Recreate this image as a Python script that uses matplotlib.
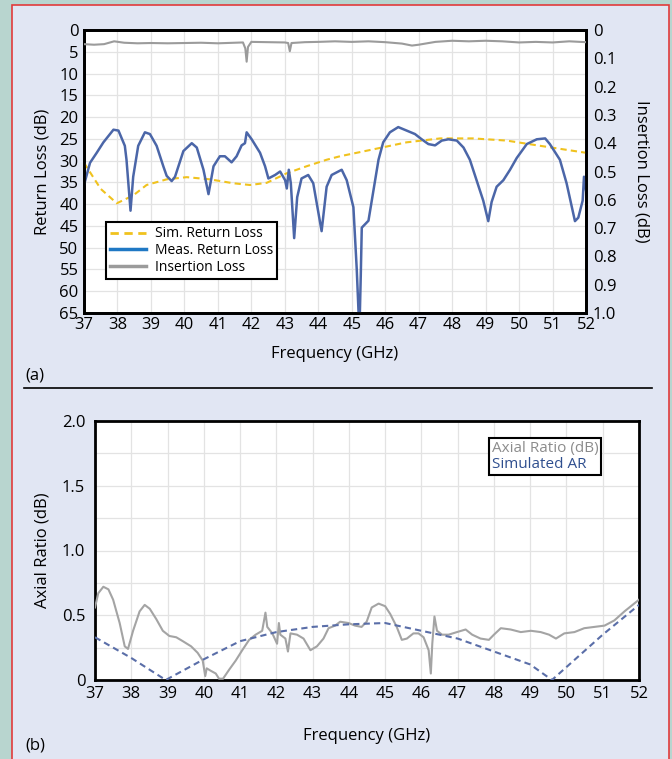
import matplotlib
matplotlib.use("Agg")
import matplotlib.pyplot as plt
from matplotlib.lines import Line2D
from matplotlib.patches import Rectangle

plt.rcParams['font.family'] = ['Open Sans', 'DejaVu Sans']

# ---- (a) return loss / insertion loss ----
meas_f = [37.0, 37.18, 37.38, 37.58, 37.88, 38.03, 38.22, 38.27, 38.39, 38.47, 38.62, 38.82,
          38.97, 39.17, 39.37, 39.47, 39.62, 39.72, 39.97, 40.22, 40.37, 40.57, 40.72, 40.87,
          41.06, 41.21, 41.41, 41.56, 41.71, 41.81, 41.86, 42.01, 42.26, 42.41, 42.51, 42.71,
          42.86, 43.01, 43.06, 43.12, 43.18, 43.28, 43.37, 43.5, 43.7, 43.85, 44.1, 44.25,
          44.4, 44.7, 44.85, 45.05, 45.15, 45.21, 45.24, 45.27, 45.3, 45.4, 45.5, 45.65, 45.8,
          45.94, 46.14, 46.39, 46.64, 46.89, 47.09, 47.29, 47.49, 47.69, 47.89, 48.14, 48.34,
          48.53, 48.73, 48.93, 49.08, 49.18, 49.33, 49.53, 49.73, 49.93, 50.23, 50.53, 50.78,
          50.92, 51.22, 51.42, 51.67, 51.77, 51.9, 51.94, 52.0]
meas_rl = [35.6, 30.5, 28.2, 25.8, 22.9, 23.1, 26.6, 29.8, 41.5, 33.7, 26.6, 23.5,
           23.9, 26.6, 31.3, 33.5, 34.7, 33.7, 27.8, 26.0, 27.0, 32.1, 37.7, 31.3,
           29.0, 29.0, 30.4, 29.0, 26.5, 26.0, 23.5, 25.1, 28.2, 31.3, 34.1, 33.3,
           32.5, 34.5, 36.4, 32.1, 35.2, 47.8, 38.4, 34.1, 33.3, 35.2, 46.2, 36.0,
           33.3, 32.1, 34.5, 40.7, 55.0, 66.0, 66.0, 56.4, 45.4, 44.6, 43.8, 36.8, 29.8,
           25.8, 23.5, 22.3, 23.1, 23.9, 25.1, 26.2, 26.5, 25.4, 25.1, 25.4, 27.0,
           29.8, 34.5, 39.2, 43.9, 39.5, 36.0, 34.5, 32.1, 29.4, 26.2, 25.1, 24.9,
           26.2, 29.8, 35.2, 43.9, 43.1, 39.2, 33.7, 36.8]

sim_f = [37.0, 37.5, 37.98, 38.47, 38.87, 39.47, 40.07, 40.76, 41.46, 41.96, 42.46, 43.06,
         43.65, 44.25, 44.65, 45.65, 46.64, 47.64, 48.63, 49.63, 50.63, 52.0]
sim_rl = [30.5, 36.5, 39.8, 38.0, 35.6, 34.3, 33.8, 34.3, 35.2, 35.6, 35.1, 32.9,
          31.3, 29.8, 29.0, 27.4, 25.8, 24.9, 24.9, 25.4, 26.6, 28.2]

il_f = [37.0, 37.3, 37.6, 37.9, 38.2, 38.6, 39.0, 39.5, 40.0, 40.5, 41.0, 41.5, 41.75, 41.82,
        41.86, 41.9, 42.0, 42.5, 43.0, 43.1, 43.15, 43.2, 43.6, 44.0, 44.5, 45.0, 45.5, 46.0,
        46.5, 46.8, 47.0, 47.5, 48.0, 48.5, 49.0, 49.5, 50.0, 50.5, 51.0, 51.5, 52.0]
il_db = [0.050, 0.052, 0.050, 0.040, 0.045, 0.047, 0.046, 0.047, 0.046, 0.045, 0.047, 0.045,
         0.044, 0.065, 0.112, 0.060, 0.042, 0.043, 0.044, 0.046, 0.075, 0.046, 0.043, 0.042,
         0.040, 0.042, 0.040, 0.043, 0.048, 0.055, 0.052, 0.042, 0.038, 0.040, 0.038, 0.040,
         0.044, 0.042, 0.044, 0.040, 0.043]

# ---- (b) axial ratio ----
ar_f = [37.0, 37.09, 37.23, 37.37, 37.5, 37.68, 37.82, 37.91, 38.05, 38.23, 38.37, 38.51,
        38.69, 38.87, 39.05, 39.24, 39.42, 39.65, 39.83, 39.97, 40.04, 40.08, 40.2, 40.33,
        40.42, 40.53, 40.7, 40.88, 41.06, 41.25, 41.43, 41.61, 41.7, 41.75, 41.89, 42.02,
        42.07, 42.11, 42.25, 42.32, 42.39, 42.57, 42.75, 42.94, 43.12, 43.3, 43.44, 43.62,
        43.76, 43.99, 44.17, 44.35, 44.49, 44.63, 44.82, 45.0, 45.14, 45.32, 45.46, 45.6,
        45.78, 45.92, 46.06, 46.2, 46.26, 46.3, 46.36, 46.43, 46.57, 46.75, 46.98, 47.22,
        47.4, 47.63, 47.86, 48.0, 48.19, 48.46, 48.74, 49.02, 49.29, 49.52, 49.71, 49.94,
        50.22, 50.49, 50.77, 51.05, 51.32, 51.6, 52.0]
ar_db = [0.56, 0.67, 0.72, 0.70, 0.62, 0.44, 0.26, 0.24, 0.38, 0.53, 0.58, 0.55,
         0.47, 0.38, 0.34, 0.33, 0.30, 0.26, 0.21, 0.15, 0.03, 0.09, 0.07, 0.05,
         0.01, 0.01, 0.08, 0.15, 0.23, 0.31, 0.35, 0.38, 0.52, 0.41, 0.36, 0.28,
         0.44, 0.35, 0.32, 0.22, 0.36, 0.35, 0.32, 0.23, 0.26, 0.32, 0.40, 0.42,
         0.45, 0.44, 0.42, 0.41, 0.45, 0.56, 0.59, 0.57, 0.51, 0.41, 0.31, 0.32,
         0.36, 0.36, 0.33, 0.23, 0.05, 0.28, 0.49, 0.38, 0.35, 0.35, 0.37, 0.39,
         0.35, 0.32, 0.31, 0.35, 0.40, 0.39, 0.37, 0.38, 0.37, 0.35, 0.32, 0.36,
         0.37, 0.40, 0.41, 0.42, 0.46, 0.53, 0.62]

simar_f = [37.0, 38.0, 38.95, 40.0, 41.0, 42.0, 43.0, 44.0, 45.0, 46.0, 47.0, 48.0, 49.0,
           49.6, 50.0, 51.0, 52.0]
simar_db = [0.33, 0.17, 0.0, 0.16, 0.30, 0.37, 0.41, 0.43, 0.44, 0.38, 0.32, 0.22, 0.12,
            0.0, 0.10, 0.35, 0.58]

freq_ticks = list(range(37, 53))
rl_ticks = list(range(0, 70, 5))
il_ticks = [0, 0.1, 0.2, 0.3, 0.4, 0.5, 0.6, 0.7, 0.8, 0.9, 1.0]
il_labels = ['0', '0.1', '0.2', '0.3', '0.4', '0.5', '0.6', '0.7', '0.8', '0.9', '1.0']

W, H = 672, 759
fig = plt.figure(figsize=(W / 100, H / 100), dpi=100, facecolor='#b8d5cf')
fig.patches.append(Rectangle((12 / W, -0.01), 657 / W, 1 - 5 / H + 0.01,
                             transform=fig.transFigure, facecolor='#e1e6f3',
                             edgecolor='#e23b3b', linewidth=1.2, zorder=-10))

blue = '#4b66a8'
yellow = '#f0c21e'
gray = '#9b9b9b'
fs = 12

ax1 = fig.add_axes([84 / W, 1 - 313 / H, 502 / W, 283 / H])
ax1.plot(sim_f, sim_rl, color=yellow, lw=1.5, ls=(0, (3, 2)), zorder=3)
ax1.plot(meas_f, meas_rl, color=blue, lw=1.8, zorder=4)
ax1.set_xlim(37, 52)
ax1.set_ylim(65, 0)
ax1.set_xticks(freq_ticks)
ax1.set_yticks(rl_ticks)
ax1.grid(True, color='#e3e3e3', lw=0.9)
ax1.set_axisbelow(True)
ax1.tick_params(length=0, labelsize=fs, pad=4)
ax1.tick_params(axis='x', pad=3)
ax1.set_ylabel('Return Loss (dB)', fontsize=fs, labelpad=6)
ax1.set_xlabel('Frequency (GHz)', fontsize=fs, labelpad=9)

ax2 = ax1.twinx()
ax2.plot(il_f, il_db, color=gray, lw=1.5, zorder=3)
ax2.set_ylim(1.0, 0)
ax2.set_yticks(il_ticks)
ax2.set_yticklabels(il_labels)
ax2.tick_params(length=0, labelsize=fs, pad=5)
ax2.set_ylabel('Insertion Loss (dB)', fontsize=fs, rotation=270, labelpad=24)
for a in (ax1, ax2):
    for s in a.spines.values():
        s.set_linewidth(2)

handles = [Line2D([], [], color=yellow, lw=2, ls=(0, (3, 2))),
           Line2D([], [], color='#1f78c4', lw=2.5),
           Line2D([], [], color=gray, lw=2.5)]
leg = ax2.legend(handles, ['Sim. Return Loss', 'Meas. Return Loss', 'Insertion Loss'],
                 loc='upper left', bbox_to_anchor=(0.03, 0.345), fontsize=10,
                 fancybox=False, framealpha=1, edgecolor='black', borderpad=0.3,
                 labelspacing=0.12, handlelength=2.6, handletextpad=0.6)
leg.get_frame().set_linewidth(1.5)

fig.text(35 / W, 1 - 375 / H, '(a)', fontsize=fs, ha='center', va='center')
fig.add_artist(Line2D([24 / W, 652 / W], [1 - 388 / H, 1 - 388 / H], color='black', lw=1.2))

ax3 = fig.add_axes([95 / W, 1 - 680 / H, 544 / W, 259 / H])
ax3.plot(ar_f, ar_db, color='#a4a4a4', lw=1.5, zorder=3)
ax3.plot(simar_f, simar_db, color='#5a6ea8', lw=1.5, ls=(0, (3, 2)), zorder=4)
ax3.set_xlim(37, 52)
ax3.set_ylim(0, 2.0)
ax3.set_xticks(freq_ticks)
ax3.set_yticks([0, 0.25, 0.5, 0.75, 1.0, 1.25, 1.5, 1.75, 2.0])
ax3.set_yticklabels(['0', '', '0.5', '', '1.0', '', '1.5', '', '2.0'])
ax3.grid(True, color='#e3e3e3', lw=0.9)
ax3.set_axisbelow(True)
ax3.tick_params(length=0, labelsize=fs, pad=7)
ax3.tick_params(axis='x', pad=4)
ax3.set_ylabel('Axial Ratio (dB)', fontsize=fs, labelpad=8)
ax3.set_xlabel('Frequency (GHz)', fontsize=fs, labelpad=19)
for s in ax3.spines.values():
    s.set_linewidth(2)

h2 = [Line2D([], [], lw=0), Line2D([], [], lw=0)]
leg2 = ax3.legend(h2, ['Axial Ratio (dB)', 'Simulated AR'], loc='upper right',
                  bbox_to_anchor=(0.945, 0.965), fontsize=11, fancybox=False,
                  framealpha=1, edgecolor='black', borderpad=0.2, labelspacing=0.05,
                  handlelength=0, handletextpad=0)
leg2.get_frame().set_linewidth(1.5)
leg2.get_texts()[0].set_color('#8c8c8c')
leg2.get_texts()[1].set_color('#2f4f8f')

fig.text(35 / W, 1 - 746 / H, '(b)', fontsize=fs, ha='center', va='center')

fig.savefig('out.png', dpi=100, facecolor=fig.get_facecolor())
